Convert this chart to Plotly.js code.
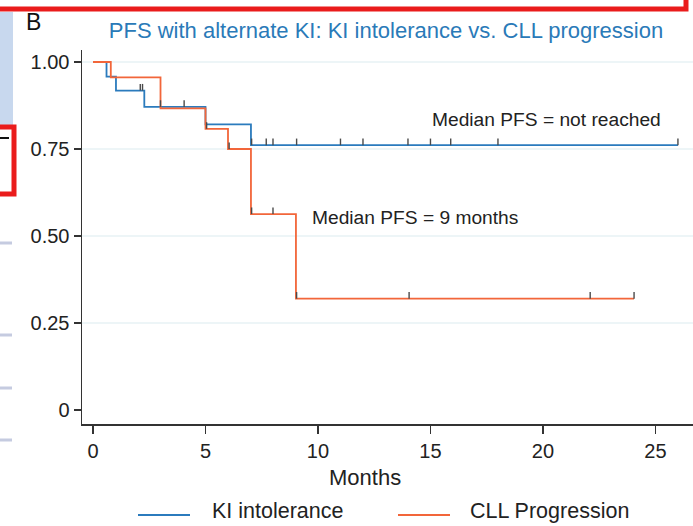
<!DOCTYPE html>
<html>
<head>
<meta charset="utf-8">
<script src="https://cdn.plot.ly/plotly-3.0.1.min.js"></script>
<style>html,body{margin:0;padding:0;background:#fff;}#chart{width:693px;height:526px;}</style>
</head>
<body>
<div id="chart"></div>
<script>
// ---- data ----
var seriesNames = ["KI intolerance", "CLL Progression"];
// KI intolerance: step times (months) and survival after each step
var kiTimes    = [0, 0.6, 1.02, 2.28, 5.0, 7.02, 26.0];
var kiSurv     = [1.0, 0.958, 0.918, 0.871, 0.821, 0.761, 0.761];
var kiCensor   = [2.1, 2.2, 3.0, 4.05, 7.05, 7.7, 8.0, 9.05, 11.0, 12.0, 14.0, 15.0, 15.9, 18.0, 26.0];
// CLL progression
var cllTimes   = [0, 0.79, 3.0, 5.0, 6.0, 7.02, 9.02, 24.05];
var cllSurv    = [1.0, 0.956, 0.867, 0.808, 0.75, 0.563, 0.32, 0.32];
var cllCensor  = [5.05, 6.05, 7.05, 8.0, 9.05, 14.05, 22.1, 24.05];
var yTickVals  = [0, 0.25, 0.5, 0.75, 1.0];
var yTickText  = ["0", "0.25", "0.50", "0.75", "1.00"];
var xTickVals  = [0, 5, 10, 15, 20, 25];
var titleText  = "PFS with alternate KI: KI intolerance vs. CLL progression";
var xTitle     = "Months";
var panelLabel = "B";
var medianKI   = "Median PFS = not reached";
var medianCLL  = "Median PFS = 9 months";

var blue = "#2b7bbd", orange = "#f2663a", red = "#ea1c1c", pale = "#c8d8ee";
var font = "Liberation Sans, Arial, sans-serif";

// pixel -> paper helpers (plot area: left 82, right 693, top 50, bottom 424)
function px(x) { return (x - 82) / 611; }
function py(y) { return (424 - y) / 374; }

function stepValue(times, surv, t) {
  var v = surv[0];
  for (var i = 0; i < times.length; i++) { if (times[i] <= t) v = surv[i]; }
  return v;
}
function censorTrace(times, surv, cens) {
  return {
    x: cens, y: cens.map(function (t) { return stepValue(times, surv, t); }),
    mode: "markers", type: "scatter", showlegend: false, hoverinfo: "skip",
    marker: {size: 1, color: "rgba(0,0,0,0)"},
    error_y: {type: "constant", symmetric: false, value: 0.019, valueminus: 0,
              width: 0, thickness: 1.4, color: "#4a4a4a"}
  };
}

var traces = [
  {x: kiTimes, y: kiSurv, name: seriesNames[0], type: "scatter", mode: "lines", showlegend: false,
   line: {shape: "hv", color: blue, width: 1.8}},
  {x: cllTimes, y: cllSurv, name: seriesNames[1], type: "scatter", mode: "lines", showlegend: false,
   line: {shape: "hv", color: orange, width: 1.8}},
  censorTrace(kiTimes, kiSurv, kiCensor),
  censorTrace(cllTimes, cllSurv, cllCensor)
];

var shapes = [];
yTickVals.filter(function (v) { return v > 0; }).forEach(function (v) {
  shapes.push({type: "line", xref: "paper", yref: "y", x0: 0, x1: 1, y0: v, y1: v,
               line: {color: "#dcecef", width: 1.2}, layer: "below"});
});
// legend keys
shapes.push({type: "line", xref: "paper", yref: "paper", x0: px(138), x1: px(190), y0: py(515), y1: py(515),
             line: {color: blue, width: 1.8}});
shapes.push({type: "line", xref: "paper", yref: "paper", x0: px(398), x1: px(450), y0: py(515), y1: py(515),
             line: {color: orange, width: 1.8}});
// screenshot frame decorations
shapes.push({type: "rect", xref: "paper", yref: "paper", x0: px(-5), x1: px(13), y0: py(125), y1: py(12),
             fillcolor: pale, line: {width: 0}, layer: "below"});
shapes.push({type: "rect", xref: "paper", yref: "paper", x0: px(-20), x1: px(686), y0: py(9), y1: py(-40),
             line: {color: red, width: 5}});
shapes.push({type: "rect", xref: "paper", yref: "paper", x0: px(-20), x1: px(14), y0: py(194), y1: py(127),
             line: {color: red, width: 5}});
shapes.push({type: "line", xref: "paper", yref: "paper", x0: px(0), x1: px(9), y0: py(138), y1: py(138),
             line: {color: "#111", width: 2}});
[243, 335, 388, 440].forEach(function (y) {
  shapes.push({type: "line", xref: "paper", yref: "paper", x0: px(0), x1: px(12), y0: py(y), y1: py(y),
               line: {color: "#c5cbe0", width: 3}});
});

var layout = {
  width: 693, height: 526,
  margin: {l: 82, r: 0, t: 50, b: 102, autoexpand: false},
  paper_bgcolor: "#ffffff", plot_bgcolor: "#ffffff",
  font: {family: font, size: 20, color: "#222"},
  showlegend: false,
  title: {text: titleText, font: {family: font, size: 22, color: "#2a7ab8"},
          xref: "container", yref: "container", x: 386 / 693, xanchor: "center", y: 1 - 30 / 526, yanchor: "middle"},
  xaxis: {range: [-0.49, 26.67], tickvals: xTickVals, showgrid: false, zeroline: false,
          showline: true, linecolor: "#333", linewidth: 1.5, ticks: "outside", ticklen: 8,
          tickcolor: "#333", tickwidth: 1.2, tickfont: {size: 20, color: "#222"}},
  yaxis: {range: [-0.0402, 1.0345], tickvals: yTickVals, ticktext: yTickText, showgrid: false,
          zeroline: false, showline: true, linecolor: "#333", linewidth: 1.5, ticks: "outside",
          ticklen: 7, tickcolor: "#333", tickwidth: 1.2, tickfont: {size: 20, color: "#222"}},
  shapes: shapes,
  annotations: [
    {text: panelLabel, xref: "paper", yref: "paper", x: px(33), y: py(22), xanchor: "center", yanchor: "middle",
     showarrow: false, font: {size: 23, color: "#111"}},
    {text: xTitle, xref: "paper", yref: "paper", x: px(365), y: py(478), xanchor: "center", yanchor: "middle",
     showarrow: false, font: {size: 22, color: "#222"}},
    {text: seriesNames[0], xref: "paper", yref: "paper", x: px(210), y: py(511), xanchor: "left", yanchor: "middle",
     showarrow: false, font: {size: 21.5, color: "#222"}},
    {text: seriesNames[1], xref: "paper", yref: "paper", x: px(468), y: py(511), xanchor: "left", yanchor: "middle",
     showarrow: false, font: {size: 21.5, color: "#222"}},
    {text: medianKI, xref: "x", yref: "y", x: 14.98, y: 0.836, xanchor: "left", yanchor: "middle",
     showarrow: false, font: {size: 19.2, color: "#222"}},
    {text: medianCLL, xref: "x", yref: "y", x: 9.64, y: 0.552, xanchor: "left", yanchor: "middle",
     showarrow: false, font: {size: 19.2, color: "#222"}}
  ]
};

Plotly.newPlot("chart", traces, layout, {displayModeBar: false, staticPlot: true});
</script>
</body>
</html>
